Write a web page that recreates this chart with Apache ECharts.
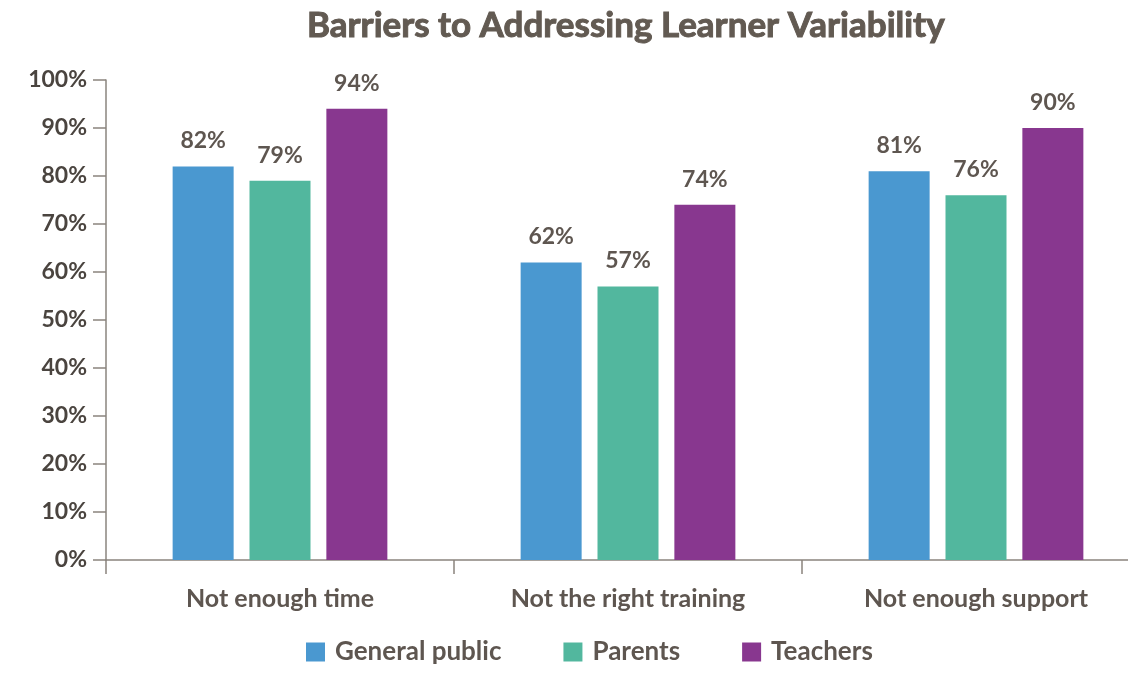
<!DOCTYPE html>
<html>
<head>
<meta charset="utf-8">
<script src="https://cdn.jsdelivr.net/npm/echarts@6.0.0/dist/echarts.min.js"></script>
<style>
  html, body { margin: 0; padding: 0; background: #fff; overflow: hidden; }
  /* a bit wider than the window so the x axis runs off the right edge */
  #chart { width: 1150px; height: 676px; }
</style>
</head>
<body>
<div id="chart"></div>
<script>
const categories = ['Not enough time', 'Not the right training', 'Not enough support'];
const generalPublic = [82, 62, 81];
const parents = [79, 57, 76];
const teachers = [94, 74, 90];
const yTicks = { min: 0, max: 100, interval: 10 };

const textColor = '#5e5650';
const axisColor = '#8a847e';
const font = 'Lato';

const label = {
  show: true,
  position: 'top',
  distance: 14,
  formatter: '{c}%',
  color: textColor,
  fontFamily: font,
  fontWeight: 'bold',
  fontSize: 23
};

const chart = echarts.init(document.getElementById('chart'));
chart.setOption({
  animation: false,
  title: {
    text: 'Barriers to Addressing Learner Variability',
    left: 302,
    top: 3,
    textStyle: {
      color: '#625a52', fontFamily: font, fontWeight: 'bold', fontSize: 35,
      textBorderColor: '#625a52', textBorderWidth: 1
    }
  },
  legend: {
    data: ['General public', 'Parents', 'Teachers'],
    left: 301,
    top: 634,
    itemWidth: 19,
    itemHeight: 19,
    itemGap: 62,
    icon: 'rect',
    textStyle: { color: textColor, fontFamily: font, fontWeight: 'bold', fontSize: 26, padding: [0, 0, 0, 5] }
  },
  grid: { left: 106, right: 0, top: 80, bottom: 116, containLabel: false },
  xAxis: {
    type: 'category',
    data: categories,
    axisLine: { lineStyle: { color: axisColor, width: 1.5 } },
    axisTick: { show: true, length: 14, lineStyle: { color: axisColor, width: 1.5 } },
    axisLabel: { margin: 26, color: textColor, fontFamily: font, fontWeight: 'bold', fontSize: 25 }
  },
  yAxis: {
    type: 'value',
    min: yTicks.min,
    max: yTicks.max,
    interval: yTicks.interval,
    splitLine: { show: false },
    axisLine: { show: true, lineStyle: { color: axisColor, width: 1.5 } },
    axisTick: { show: true, length: 13, lineStyle: { color: axisColor, width: 1.5 } },
    axisLabel: { formatter: '{value}%', margin: 19, color: '#4a443f', fontFamily: font, fontWeight: 'bold', fontSize: 23 }
  },
  series: [
    { name: 'General public', type: 'bar', data: generalPublic, barWidth: 61, barGap: '26%', itemStyle: { color: '#4a98d0' }, label: label },
    { name: 'Parents', type: 'bar', data: parents, barWidth: 61, barGap: '26%', itemStyle: { color: '#52b79e' }, label: label },
    { name: 'Teachers', type: 'bar', data: teachers, barWidth: 61, barGap: '26%', itemStyle: { color: '#88378f' }, label: label }
  ]
});
</script>
</body>
</html>
